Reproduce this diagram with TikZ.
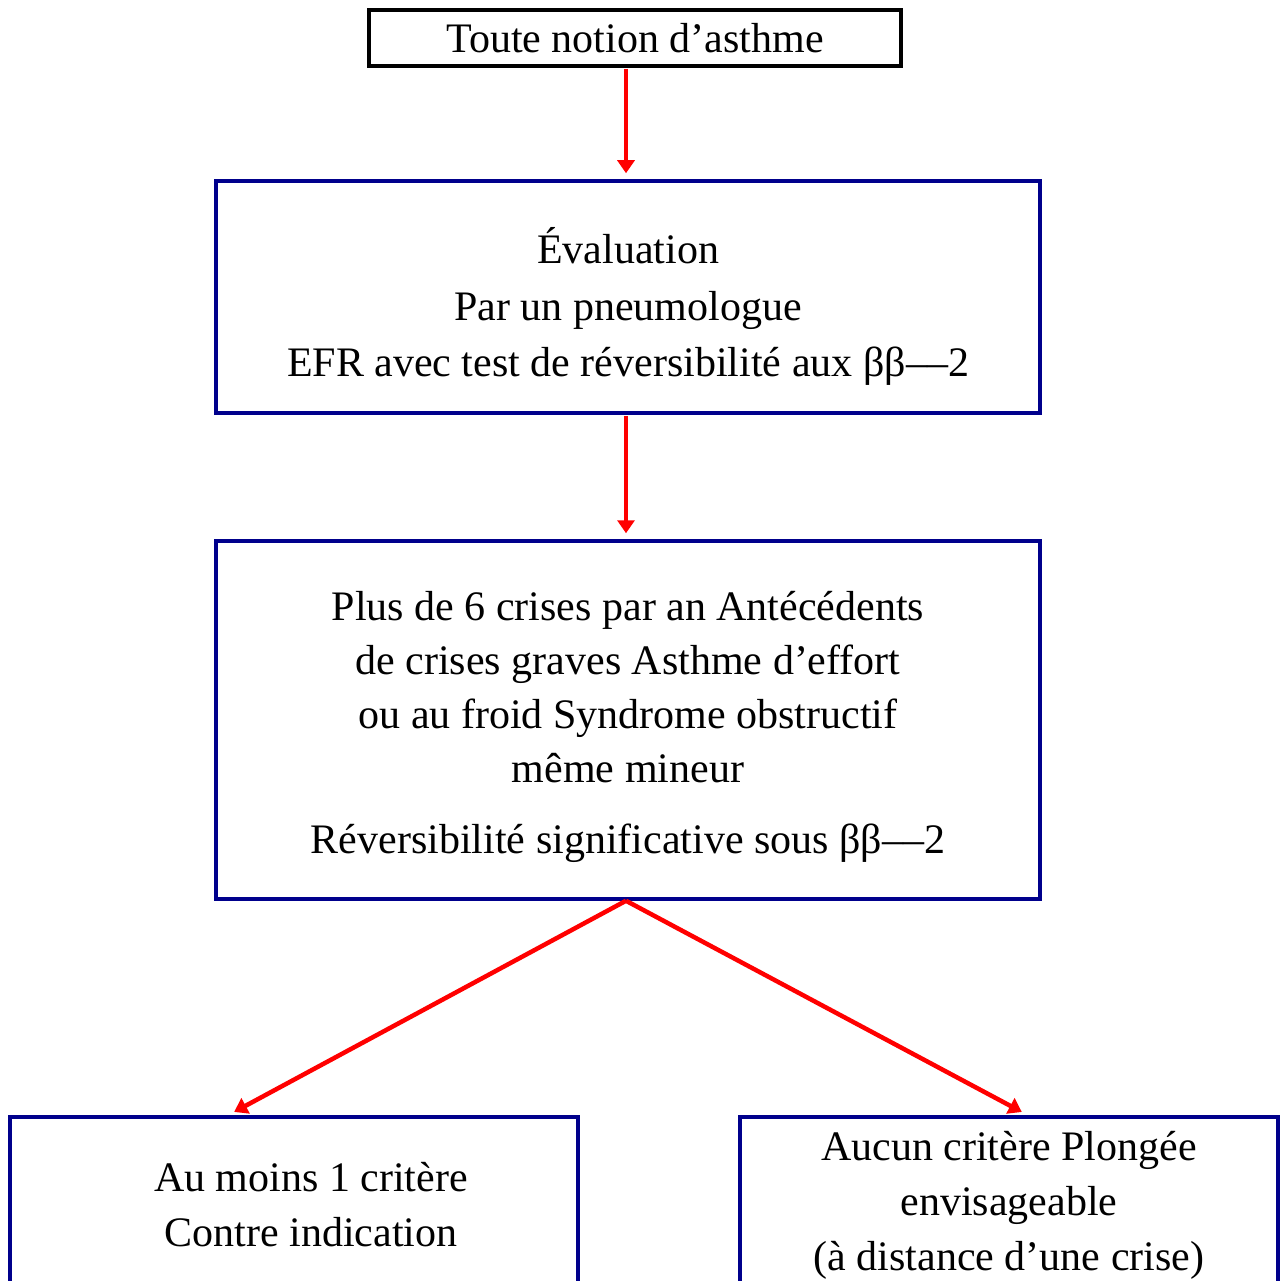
\documentclass[tikz,border=0pt]{standalone}
\usepackage{fontspec}
\setmainfont{Liberation Serif}
\usetikzlibrary{arrows.meta}
\definecolor{boxnavy}{RGB}{0,0,140}
\begin{document}
\begin{tikzpicture}[x=1pt,y=-1pt,
  txt/.style={font=\fontsize{42}{55}\selectfont, align=center, inner sep=0pt},
  topbox/.style={txt, draw=black, line width=3.5pt},
  bluebox/.style={txt, draw=boxnavy, line width=3.5pt},
  redarrow/.style={draw=red, line width=4.5pt, -{Triangle[width=17pt,length=13pt]}}
]
\useasboundingbox (0,0) rectangle (1280,1281);
\clip (0,0) rectangle (1280,1281);
\fill[white] (0,0) rectangle (1280,1281);

\node[topbox, minimum width=532pt, minimum height=56pt] (t) at (635,38) {Toute notion d’asthme};
\node[bluebox, minimum width=824pt, minimum height=232pt,
  font=\fontsize{42}{56.5}\selectfont] (e) at (628,297)
  {\rule{0pt}{55pt}Évaluation\\Par un pneumologue\\EFR avec test de réversibilité aux ββ––2};
\node[bluebox, minimum width=824pt, minimum height=358pt,
  font=\fontsize{42}{54}\selectfont] (c) at (628,720)
  {\rule{0pt}{44pt}Plus de 6 crises par an Antécédents\\de crises graves Asthme d’effort\\ou au froid Syndrome obstructif\\même mineur\\[17pt]Réversibilité significative sous ββ––2};
\node[bluebox, minimum width=568pt, minimum height=176pt] (ci) at (294,1205)
  {\hspace*{34pt}Au moins 1 critère\\\hspace*{34pt}Contre indication};
\node[bluebox, minimum width=538pt, minimum height=176pt] (ok) at (1009,1205)
  {Aucun critère Plongée\\envisageable\\(à distance d’une crise)};

\draw[redarrow, shorten <=1pt, shorten >=6pt] ([xshift=-9pt]t.south) -- ([xshift=-2pt]e.north);
\draw[redarrow, shorten <=1pt, shorten >=6pt] ([xshift=-2pt]e.south) -- ([xshift=-2pt]c.north);
\draw[redarrow, shorten >=7pt] ([xshift=-2pt]c.south) -- ([xshift=-66pt]ci.north);
\draw[redarrow, shorten >=7pt] ([xshift=-2pt]c.south) -- ([xshift=19pt]ok.north);
\end{tikzpicture}
\end{document}
